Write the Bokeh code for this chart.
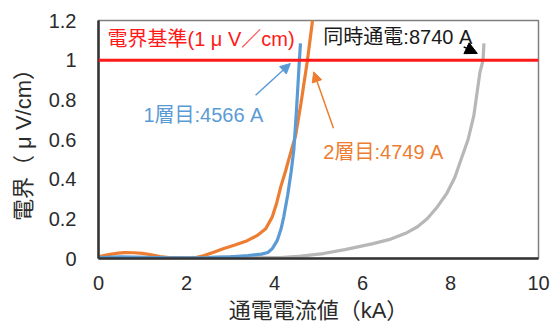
from bokeh.plotting import figure
from bokeh.models import Span, Arrow, NormalHead, Label, FixedTicker, NumeralTickFormatter, Range1d
from bokeh.embed import file_html
from bokeh.resources import INLINE

# Layer 1 (1層目) E-I curve
layer1_current = [0, 0.5, 1.0, 1.5, 2.0, 2.5, 3.0, 3.4, 3.7, 3.85, 3.95, 4.06, 4.15, 4.21,
                  4.3, 4.38, 4.44, 4.5, 4.566, 4.59]
layer1_field = [0.004, 0.008, 0.006, 0.004, 0.003, 0.004, 0.008, 0.015, 0.022, 0.03, 0.05,
                0.09, 0.15, 0.21, 0.32, 0.44, 0.55, 0.75, 1.0, 1.085]

# Layer 2 (2層目) E-I curve
layer2_current = [0, 0.1, 0.2, 0.3, 0.45, 0.6, 0.8, 1.0, 1.2, 1.4, 1.6, 1.9, 2.2, 2.4, 2.6,
                  2.85, 3.1, 3.38, 3.6, 3.8, 3.95, 4.05, 4.14, 4.25, 4.35, 4.48, 4.6, 4.749, 4.87]
layer2_field = [0.01, 0.014, 0.018, 0.022, 0.027, 0.03, 0.029, 0.026, 0.019, 0.01, 0.005,
                0.002, 0.003, 0.015, 0.03, 0.05, 0.068, 0.09, 0.115, 0.15, 0.21, 0.28, 0.36,
                0.44, 0.52, 0.62, 0.78, 1.0, 1.21]

# Both layers energised together (同時通電)
both_current = [0, 0.5, 1.0, 1.5, 2.0, 2.5, 3.0, 3.5, 4.0, 4.14, 4.6, 5.11, 5.6, 6.24, 6.6,
                7.01, 7.25, 7.47, 7.7, 7.92, 8.1, 8.21, 8.4, 8.53, 8.67, 8.74, 8.76]
both_field = [0.003, 0.005, 0.006, 0.005, 0.004, 0.006, 0.008, 0.007, 0.005, 0.004, 0.012,
              0.025, 0.045, 0.075, 0.095, 0.13, 0.16, 0.2, 0.26, 0.33, 0.41, 0.48, 0.6,
              0.72, 0.94, 1.0, 1.085]

criterion = 1.0  # μV/cm
critical_currents = {"layer1": 4566, "layer2": 4749, "both": 8740}  # A

x_ticks = [0, 2, 4, 6, 8, 10]
y_ticks = [0, 0.2, 0.4, 0.6, 0.8, 1.0, 1.2]

FONT = "'Liberation Sans', 'Noto Sans CJK JP', sans-serif"
BLUE = "#5B9BD5"
ORANGE = "#ED7D31"
GRAY = "#B7B7B7"
RED = "#FF1A1A"

p = figure(width=558, height=329, output_backend="svg", toolbar_location=None,
           x_range=Range1d(0, 10), y_range=Range1d(0, 1.2),
           min_border_left=98, min_border_right=20, min_border_top=20, min_border_bottom=71)
p.background_fill_color = "white"
p.border_fill_color = "white"
p.outline_line_color = "#7F7F7F"
p.outline_line_width = 1.5
p.xgrid.visible = False
p.ygrid.visible = False

for ax in (p.xaxis[0], p.yaxis[0]):
    ax.axis_line_color = "#333333"
    ax.axis_line_width = 2.5
    ax.major_tick_line_color = None
    ax.minor_tick_line_color = None
    ax.major_tick_out = 0
    ax.major_tick_in = 0
    ax.major_label_text_font = FONT
    ax.major_label_text_font_size = "20px"
    ax.major_label_text_color = "#2B2B2B"
    ax.axis_label_text_font = FONT
    ax.axis_label_text_font_style = "normal"
    ax.axis_label_text_font_size = "22px"
    ax.axis_label_text_color = "#2B2B2B"

p.xaxis.ticker = FixedTicker(ticks=x_ticks)
p.yaxis.ticker = FixedTicker(ticks=y_ticks)
p.yaxis.formatter = NumeralTickFormatter(format="0.[0]")
p.xaxis.major_label_standoff = 17
p.yaxis.major_label_standoff = 22
p.xaxis.axis_label = "通電電流値（kA）"
p.yaxis.axis_label = "電界（ μ V/cm）"
p.xaxis.axis_label_standoff = 5
p.yaxis.axis_label_standoff = 10

p.line(both_current, both_field, line_color=GRAY, line_width=3.2)
p.line(layer2_current, layer2_field, line_color=ORANGE, line_width=3.2)
p.line(layer1_current, layer1_field, line_color=BLUE, line_width=3.2)

p.add_layout(Span(location=criterion, dimension="width", line_color=RED, line_width=3))

# Arrows pointing at each crossing of the criterion
p.add_layout(Arrow(x_start=3.57, y_start=0.823, x_end=4.36, y_end=0.983,
                   line_color=BLUE, line_width=1.5,
                   end=NormalHead(size=10, fill_color=BLUE, line_color=BLUE)))
p.add_layout(Arrow(x_start=5.34, y_start=0.657, x_end=4.89, y_end=0.941,
                   line_color=ORANGE, line_width=1.5,
                   end=NormalHead(size=10, fill_color=ORANGE, line_color=ORANGE)))
p.add_layout(Arrow(x_start=8.30, y_start=1.067, x_end=8.61, y_end=1.034,
                   line_color="black", line_width=1.5,
                   end=NormalHead(size=12, fill_color="black", line_color="black")))

def add_label(x, y, text, color):
    p.add_layout(Label(x=x, y=y, text=text, text_color=color, text_font=FONT,
                       text_font_size="20px", text_align="left", text_baseline="middle"))

add_label(0.205, 1.106, "電界基準(1 μ V／cm)", RED)
add_label(1.02, 0.722, f"1層目:{critical_currents['layer1']} A", BLUE)
add_label(5.11, 0.535, f"2層目:{critical_currents['layer2']} A", ORANGE)
add_label(5.11, 1.116, f"同時通電:{critical_currents['both']} A", "#1A1A1A")

open("out.html", "w").write(file_html(p, INLINE))
